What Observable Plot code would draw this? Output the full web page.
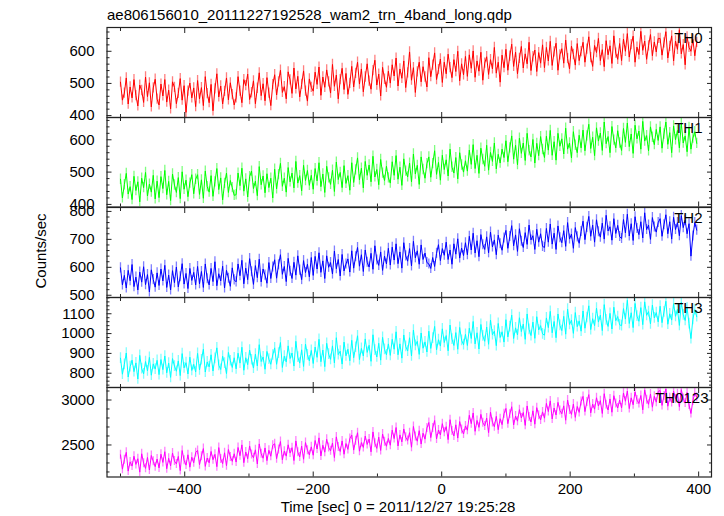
<!DOCTYPE html>
<html><head><meta charset="utf-8">
<script src="https://cdn.jsdelivr.net/npm/d3@7"></script>
<script src="https://cdn.jsdelivr.net/npm/@observablehq/plot@0.6"></script>
<style>
body{margin:0;background:#fff;}
#chart{position:relative;width:724px;height:516px;overflow:hidden;font-family:"Liberation Sans",Arial,sans-serif;}
#chart svg{position:absolute;left:0;overflow:visible;}
</style></head><body><div id="chart"></div>
<script>
const title = "ae806156010_20111227192528_wam2_trn_4band_long.qdp";
const xLabel = "Time [sec] 0 = 2011/12/27 19:25:28";
const yLabel = "Counts/sec";
const seriesNames = ["TH0", "TH1", "TH2", "TH3", "TH0123"];
const tStart = -500, tStep = 3; // time bins [sec]

const th0 = [
504,448,470,517,436,489,455,512,462,430,495,478,441,520,459,502,427,486,513,451,
433,498,461,512,442,479,421,505,488,437,469,515,448,493,410,476,501,455,486,428,
509,452,487,431,521,468,440,497,415,483,530,458,492,436,475,517,449,502,465,433,
455,521,476,440,512,493,529,450,471,508,437,485,533,462,499,446,518,470,431,496,
527,464,505,541,472,490,452,536,511,469,548,483,522,458,497,539,476,445,514,488,
476,535,497,551,463,520,488,542,505,470,559,491,526,452,512,547,481,531,466,500,
553,489,531,566,498,545,474,520,561,507,482,540,572,495,529,461,550,513,488,538,
501,558,523,579,492,545,516,570,487,533,598,510,549,472,536,566,505,552,520,489,
580,521,557,595,512,543,576,503,566,530,591,549,518,574,537,600,508,561,527,584,
522,589,547,601,519,570,538,597,510,563,583,528,574,545,612,532,566,504,588,549,
606,541,585,622,553,597,530,578,615,548,592,561,628,540,583,604,537,596,563,620,
549,612,570,631,556,598,625,541,589,608,563,635,577,545,616,590,557,624,571,599,
628,566,607,645,580,553,618,596,640,571,605,552,633,589,617,562,648,594,575,624,
571,638,600,655,582,621,647,566,613,590,662,603,632,575,617,652,586,629,598,640,
640,588,626,661,579,615,648,570,632,606,667,592,621,558,645,612,600,637,586,628];

const th1 = [
478,420,461,496,432,455,415,487,443,470,408,481,452,499,426,463,438,490,417,472,
421,486,449,505,430,471,412,494,460,437,483,418,501,447,475,424,466,492,433,478,
492,431,476,419,503,455,438,489,425,470,511,446,482,414,465,497,437,474,452,428,
430,497,458,512,441,479,423,486,503,449,472,427,517,461,488,436,495,452,481,420,
509,448,492,527,456,481,438,514,470,497,451,533,466,489,442,521,474,505,459,490,
447,511,473,529,455,494,437,518,482,462,506,440,531,477,499,452,520,465,489,444,
529,468,507,544,476,512,451,533,490,522,470,549,485,508,461,539,497,474,518,482,
466,532,490,551,478,515,459,541,503,485,528,470,556,494,521,462,547,508,481,526,
547,484,526,566,493,530,475,552,508,538,488,571,515,497,545,479,560,522,500,535,
503,568,524,585,511,552,496,574,539,518,583,506,561,533,590,510,555,528,571,545,
597,532,575,612,540,583,523,605,558,590,536,620,566,547,601,528,589,551,610,570,
545,611,568,629,552,594,537,620,580,603,556,636,571,590,544,625,583,560,614,575,
630,566,612,648,573,608,551,637,596,621,567,655,588,610,560,641,599,575,628,590,
567,635,592,652,579,618,558,645,603,627,571,657,596,613,566,640,608,585,632,598,
640,574,618,655,586,622,560,643,600,629,575,651,590,612,563,638,571,605,625,589];

const th2 = [
598,537,571,526,589,552,610,531,565,519,583,547,602,538,574,512,591,556,529,580,
535,594,551,607,528,572,519,588,545,601,530,566,613,540,578,524,596,553,582,537,
603,541,585,528,612,559,537,596,549,620,534,577,551,604,526,589,561,532,598,555,
548,612,570,625,541,597,556,631,584,539,606,563,629,548,594,572,543,617,560,601,
627,561,609,645,575,603,549,632,586,560,618,572,641,590,556,624,581,611,566,635,
571,639,594,652,582,623,560,641,600,617,576,658,595,628,569,646,587,612,630,583,
659,597,638,671,604,645,585,662,618,601,650,593,677,626,607,655,589,640,612,668,
608,672,626,684,613,655,597,688,641,622,667,605,693,634,659,611,680,628,651,617,
612,596,635,603,650,681,624,667,643,690,628,662,611,684,647,702,633,669,642,688,
645,711,662,722,651,695,638,717,681,664,709,652,726,673,698,645,715,684,661,705,
732,668,710,749,677,716,657,738,693,671,724,682,751,698,713,664,736,690,720,675,
671,739,690,755,683,722,664,748,706,688,731,675,760,701,719,668,742,709,686,728,
765,699,743,782,711,751,690,770,727,708,758,701,786,730,745,697,774,721,750,710,
703,771,723,790,712,756,696,781,739,717,763,705,795,735,751,700,778,744,726,760,
774,711,752,788,720,763,701,779,735,760,713,785,742,768,720,756,640,712,760,733];

const th3 = [
876,795,845,902,781,833,866,808,852,771,890,823,797,859,812,880,790,847,821,865,
793,869,818,887,802,851,779,874,836,810,862,788,899,827,853,796,881,814,845,806,
900,817,868,921,806,857,832,893,811,875,928,840,819,886,851,798,905,863,829,878,
822,901,851,931,815,878,843,917,868,826,896,837,944,859,882,820,910,871,845,892,
928,845,901,955,829,886,857,938,874,902,836,961,881,851,918,834,947,893,862,915,
849,932,880,971,858,917,833,951,896,870,938,852,979,894,911,846,957,888,921,863,
966,878,931,989,869,925,887,973,905,941,860,994,917,882,951,866,981,920,893,948,
890,971,921,1009,893,948,876,993,935,912,979,887,1018,940,961,895,1003,926,958,907,
1012,925,977,1036,918,969,937,1024,955,990,913,1043,972,940,1005,921,1031,966,944,996,
940,1027,975,1061,948,1004,922,1046,988,961,1033,946,1068,994,1012,939,1051,980,1009,957,
1070,983,1035,1093,975,1029,993,1080,1010,1048,971,1099,1021,990,1058,976,1085,1018,1040,998,
992,1079,1030,1112,1004,1061,979,1099,1041,1015,1087,997,1123,1046,1068,1001,1106,1035,1064,1012,
1114,1027,1081,1140,1020,1075,1040,1128,1058,1093,1015,1146,1069,1036,1102,1023,1133,1065,1086,1044,
1040,1126,1073,1168,1051,1105,1030,1152,1088,1062,1131,1045,1160,1092,1111,1049,1144,1079,1106,1059,
1138,1055,1109,1163,1047,1100,1068,1151,1087,1122,1041,1158,1094,1066,1130,1050,975,1072,1121,1085];

const th0123 = [
2390,2231,2336,2418,2210,2312,2265,2375,2284,2347,2198,2402,2296,2240,2361,2222,2383,2318,2259,2344,
2245,2397,2306,2425,2236,2352,2268,2410,2321,2289,2373,2215,2438,2330,2276,2391,2253,2364,2302,2415,
2440,2281,2376,2460,2262,2355,2301,2428,2336,2396,2259,2471,2345,2292,2413,2270,2450,2367,2318,2402,
2310,2472,2381,2501,2303,2422,2347,2489,2395,2358,2446,2289,2512,2402,2353,2467,2326,2441,2375,2496,
2514,2348,2450,2538,2335,2431,2376,2502,2410,2470,2327,2545,2420,2367,2488,2342,2527,2441,2390,2479,
2386,2550,2455,2579,2378,2497,2420,2563,2472,2435,2522,2360,2590,2478,2428,2545,2397,2516,2451,2571,
2611,2443,2548,2636,2431,2527,2473,2599,2506,2566,2424,2645,2518,2462,2587,2439,2622,2537,2486,2573,
2497,2665,2571,2694,2489,2612,2534,2678,2586,2549,2637,2475,2706,2593,2542,2659,2510,2631,2565,2688,
2750,2582,2688,2772,2567,2666,2611,2737,2642,2704,2560,2781,2655,2600,2724,2577,2760,2673,2622,2711,
2664,2830,2737,2856,2652,2773,2696,2840,2748,2712,2799,2637,2865,2751,2703,2818,2670,2792,2726,2848,
2906,2737,2843,2925,2722,2821,2765,2893,2800,2861,2718,2934,2810,2756,2880,2731,2915,2830,2779,2868,
2798,2962,2871,2990,2790,2911,2833,2974,2884,2847,2935,2775,3000,2890,2840,2955,2807,2928,2862,2983,
3040,2871,2977,3060,2857,2955,2898,3025,2933,2993,2850,3070,2946,2889,3012,2864,3048,2962,2911,3000,
2912,3078,2986,3100,2905,3024,2947,3090,2999,2961,3050,2891,3112,3003,2952,3066,2920,3041,2976,3095,
3106,2940,3045,3122,2931,3026,2972,3098,3012,3070,2925,3115,3018,2966,3084,2945,2850,2990,3080,3030];

const errors = [16, 16, 18, 27, 50]; // 1-sigma count-rate errors per band
const xTicks = [-400, -200, 0, 200, 400];
const xMinorTicks = [-500, -300, -100, 100, 300];
const yTicks = [[400, 500, 600], [400, 500, 600], [500, 600, 700, 800], [800, 900, 1000, 1100], [2500, 3000]];
const yMinorStep = [20, 20, 20, 20, 100];
const yDomains = [[394, 674], [392, 669], [492, 814], [728, 1182], [2144, 3139]];
const xDomain = [-521, 420];

const series = [th0, th1, th2, th3, th0123];
const colors = ["#ff0000", "#00ff00", "#0000ff", "#00ffff", "#ff00ff"];
const bounds = [27, 117, 206.5, 296.5, 386.5, 476];
const chart = document.getElementById("chart");
const font = '"Liberation Sans", Arial, sans-serif';
const blank = () => "";

series.forEach((vals, p) => {
  const data = vals.map((v, i) => ({t: tStart + i * tStep, v, lo: v - errors[p], hi: v + errors[p]}));
  const isLast = p === series.length - 1;
  const h = bounds[p + 1] - bounds[p];
  const mb = isLast ? 34 : 0;
  const [d0, d1] = yDomains[p];
  const st = yMinorStep[p];
  const minor = d3.range(Math.ceil(d0 / st) * st, d1, st).filter(v => !yTicks[p].includes(v));
  const tk = {stroke: "#222", label: null, tickFormat: blank};
  const svg = Plot.plot({
    width: 724, height: h + mb,
    marginLeft: 106.5, marginRight: 13, marginTop: 0, marginBottom: mb,
    style: {fontFamily: font, fontSize: "15px", color: "#000", background: "transparent", overflow: "visible"},
    x: {domain: xDomain},
    y: {domain: yDomains[p]},
    marks: [
      Plot.ruleX(data, {x: "t", y1: "lo", y2: "hi", stroke: colors[p], strokeOpacity: 0.5, strokeWidth: 1.3, clip: true}),
      Plot.line(data, {x: "t", y: "v", stroke: colors[p], strokeWidth: 1, clip: true}),
      Plot.axisY(yTicks[p], {anchor: "left", tickSize: 0, tickPadding: 12.5, fontSize: 15, label: null, tickFormat: "d"}),
      Plot.axisY(yTicks[p], {anchor: "left", tickSize: -5, ...tk}),
      Plot.axisY(minor, {anchor: "left", tickSize: -3, ...tk}),
      Plot.axisY(yTicks[p], {anchor: "right", tickSize: -5, ...tk}),
      Plot.axisY(minor, {anchor: "right", tickSize: -3, ...tk}),
      Plot.axisX(xTicks, {anchor: "top", tickSize: -5, ...tk}),
      Plot.axisX(xMinorTicks, {anchor: "top", tickSize: -3, ...tk}),
      Plot.axisX(xTicks, {anchor: "bottom", tickSize: -5, ...tk}),
      Plot.axisX(xMinorTicks, {anchor: "bottom", tickSize: -3, ...tk}),
      ...(isLast ? [Plot.axisX(xTicks, {anchor: "bottom", tickSize: 0, tickPadding: 6, fontSize: 15, label: null})] : []),
      Plot.frame({stroke: "#222", strokeWidth: 1.2}),
      Plot.text([seriesNames[p]], {frameAnchor: "top-right", textAnchor: "end", lineAnchor: "top",
        dx: isLast ? -3 : -9, dy: 5, fontSize: 15, fill: "#000"})
    ]
  });
  svg.style.top = bounds[p] + "px";
  chart.appendChild(svg);
});

const overlay = d3.create("svg")
  .attr("width", 724).attr("height", 516)
  .style("position", "absolute").style("left", "0px").style("top", "0px")
  .style("font-family", font).style("font-size", "15px");
overlay.append("text").attr("x", 107).attr("y", 19.5).attr("fill", "#000").text(title);
overlay.append("text").attr("transform", "translate(46,251) rotate(-90)").attr("text-anchor", "middle").attr("fill", "#000").text(yLabel);
overlay.append("text").attr("x", 398).attr("y", 512).attr("text-anchor", "middle").attr("fill", "#000").text(xLabel);
chart.appendChild(overlay.node());
</script></body></html>
